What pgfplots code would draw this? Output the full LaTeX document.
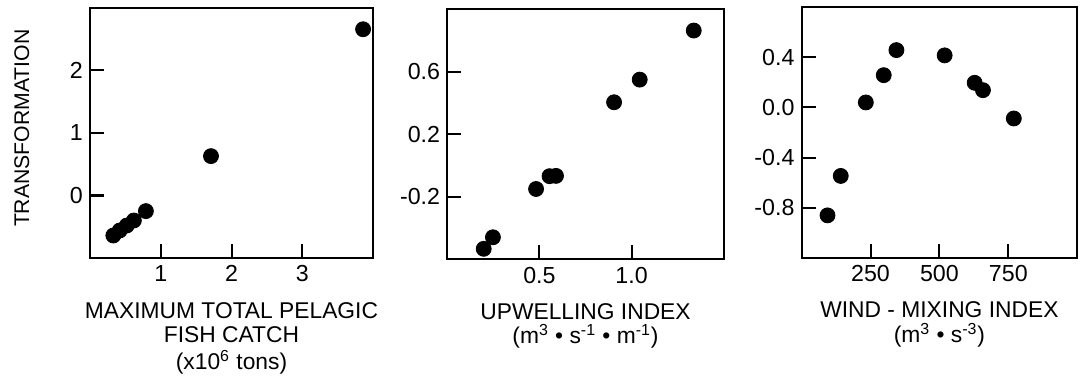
\documentclass[border=0pt]{standalone}
\usepackage{fontspec}
\setmainfont{Liberation Sans}
\usepackage{pgfplots}
\pgfplotsset{compat=1.18}
\pgfplotsset{
  panel/.style={
    scale only axis, height=125pt,
    axis line style={line width=1pt},
    every tick/.style={line width=1pt, black},
    major tick length=7pt,
    tick align=inside,
    xtick pos=bottom, ytick pos=left,
    xticklabel style={font=\fontsize{11.6}{13}\selectfont, inner sep=0pt, anchor=north, yshift=-3.6pt},
    yticklabel style={font=\fontsize{11.6}{13}\selectfont, inner sep=0pt, anchor=east, xshift=-3.4pt},
    xlabel style={font=\fontsize{11.4}{12.2}\selectfont, align=center, inner sep=0pt,
      at={(axis description cs:0.5,0)}, anchor=north, yshift=-21.9pt},
    clip=false,
  },
  dots/.style={only marks, mark=*, mark size=3.75pt, color=black},
}
\begin{document}
\begin{tikzpicture}
\path[use as bounding box] (0pt,0pt) rectangle (540pt,187.5pt);
% Panel 1
\begin{axis}[panel, width=141.5pt, at={(45pt,58.5pt)}, anchor=south west,
  xmin=0, xmax=4, ymin=-1, ymax=3,
  xtick={1,2,3}, xticklabels={1,2,3},
  ytick={0,1,2}, yticklabels={0,1,2},
  xlabel={MAXIMUM TOTAL PELAGIC\\FISH CATCH\\[1.5pt](x10\textsuperscript{6} tons)},
  ylabel={TRANSFORMATION},
  ylabel style={font=\fontsize{10.6}{12}\selectfont, inner sep=0pt,
    at={(axis description cs:-0.2413,0.519)}, anchor=center},
]
\addplot[dots] coordinates {
  (0.33,-0.64) (0.42,-0.56) (0.52,-0.48) (0.62,-0.40) (0.79,-0.25)
  (1.71,0.63) (3.86,2.66)
};
\end{axis}
% Panel 2
\begin{axis}[panel, width=138.3pt, at={(223.6pt,57.85pt)}, anchor=south west,
  xmin=0, xmax=1.5, ymin=-0.6, ymax=1.0,
  xtick={0.5,1.0}, xticklabels={0.5,1.0},
  ytick={-0.2,0.2,0.6}, yticklabels={-0.2,0.2,0.6},
  xlabel={UPWELLING INDEX\\(m\textsuperscript{3} • s\textsuperscript{-1} • m\textsuperscript{-1})},
]
\addplot[dots] coordinates {
  (0.198,-0.533) (0.248,-0.459) (0.482,-0.150) (0.555,-0.068) (0.590,-0.066)
  (0.905,0.405) (1.044,0.550) (1.337,0.864)
};
\end{axis}
% Panel 3
\begin{axis}[panel, width=137.8pt, at={(400.8pt,58.65pt)}, anchor=south west,
  height=125.2pt,
  xmin=0, xmax=1000, ymin=-1.2, ymax=0.8,
  xtick={250,500,750}, xticklabels={250,500,750},
  ytick={-0.8,-0.4,0,0.4}, yticklabels={-0.8,-0.4,0.0,0.4},
  xlabel={WIND - MIXING INDEX\\(m\textsuperscript{3} • s\textsuperscript{-3})},
]
\addplot[dots] coordinates {
  (94,-0.862) (142,-0.547) (233,0.040) (298,0.258) (344,0.458)
  (519,0.416) (628,0.197) (658,0.138) (770,-0.088)
};
\end{axis}
\end{tikzpicture}
\end{document}
